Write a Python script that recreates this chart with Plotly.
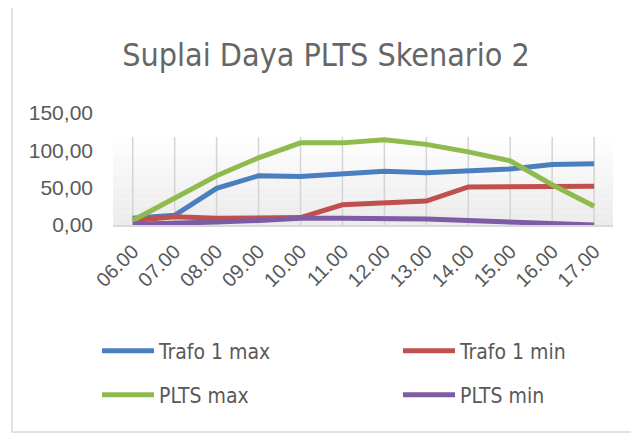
import plotly.graph_objects as go

hours = ["06.00", "07.00", "08.00", "09.00", "10.00", "11.00",
         "12.00", "13.00", "14.00", "15.00", "16.00", "17.00"]
trafo_max = [9, 13, 49, 66, 65, 68, 72, 70, 72, 75, 81, 82]
trafo_min = [6, 11, 9, 9, 10, 27, 30, 32, 51, 51, 51, 52]
plts_max = [6, 36, 66, 90, 110, 110, 114, 108, 98, 86, 54, 25]
plts_min = [1, 2, 4, 6, 9, 9, 9, 8, 6, 4, 2, 0]

series_names = ["Trafo 1 max", "Trafo 1 min", "PLTS max", "PLTS min"]
series_values = [trafo_max, trafo_min, plts_max, plts_min]
series_colors = ["#4a7ebf", "#c0504d", "#8fbb4e", "#7d5ca3"]

y_tickvals = [0, 50, 100, 150]
y_ticktext = ["0,00", "50,00", "100,00", "150,00"]

title_text = "Suplai Daya PLTS Skenario 2"
page_number = "291"

# page body has an 8px margin; work in window pixels and convert
OFF = 8
W, H = 639 - OFF, 434 - OFF
PL, PR, PT, PB = 113, 613, 113, 225   # plot area in window pixels
ML, MR, MT, MB = PL - OFF, W - (PR - OFF), PT - OFF, H - (PB - OFF)
PW = PR - PL
PH = PB - PT


def px_x(p):
    return (p - PL) / PW


def px_y(p):
    return (PB - p) / PH


narrow = "Liberation Sans Narrow, DejaVu Sans Condensed, Lato, sans-serif"
regular = "Liberation Sans, Arial, sans-serif"

fig = go.Figure()
legend_names = ["legend", "legend2", "legend3", "legend4"]
for name, vals, col, lg in zip(series_names, series_values, series_colors, legend_names):
    fig.add_trace(go.Scatter(
        x=hours, y=vals, name=name, mode="lines",
        line=dict(color=col, width=5), legend=lg, showlegend=True,
    ))

# gradient background + vertical gridlines
shapes = []
n = 14
top = 118
for i in range(n):
    y0 = top * i / n
    y1 = top * (i + 1) / n
    g = int(236 + (254 - 236) * i / (n - 1))
    shapes.append(dict(type="rect", xref="paper", yref="y", x0=0, x1=1, y0=y0, y1=y1,
                       fillcolor=f"rgb({g},{g},{g})", line=dict(width=0), layer="below"))
for i in range(len(hours)):
    shapes.append(dict(type="line", xref="x", yref="y", x0=i, x1=i, y0=0, y1=top,
                       line=dict(color="#d4d4d4", width=1.5), layer="below"))
# outer frame
shapes.append(dict(type="rect", xref="paper", yref="paper",
                   x0=px_x(12), x1=px_x(637), y0=px_y(432), y1=px_y(7),
                   line=dict(color="#d9d9d9", width=1.5), fillcolor="rgba(0,0,0,0)"))

legend_pos = [(px_x(97), px_y(351)), (px_x(398), px_y(351)),
              (px_x(97), px_y(395)), (px_x(398), px_y(395))]
legend_cfg = {}
for lg, (lx, ly) in zip(legend_names, legend_pos):
    legend_cfg[lg] = dict(
        x=lx, y=ly, xanchor="left", yanchor="middle",
        font=dict(family=narrow, size=21, color="#595959"),
        bgcolor="rgba(0,0,0,0)", borderwidth=0, itemwidth=52,
    )

fig.update_layout(
    width=W, height=H,
    margin=dict(l=ML, r=MR, t=MT, b=MB, autoexpand=False),
    showlegend=True,
    paper_bgcolor="white", plot_bgcolor="white",
    title=dict(text=title_text, x=(326 - OFF) / W, xanchor="center",
               y=1 - (55 - OFF) / H, yanchor="middle", yref="container",
               font=dict(family=narrow, size=32, color="#666666")),
    xaxis=dict(type="category", range=[-0.47, 11.45], showgrid=False,
               showline=True, linecolor="#d9d9d9", linewidth=1.5,
               tickangle=-45, ticks="", ticklabelstandoff=5,
               tickfont=dict(family=regular, size=20, color="#595959"),
               zeroline=False),
    yaxis=dict(range=[0, 150], tickvals=y_tickvals, ticktext=y_ticktext,
               showgrid=False, zeroline=False, showline=False, ticks="",
               ticklabelstandoff=19,
               tickfont=dict(family=regular, size=21, color="#595959")),
    shapes=shapes,
    annotations=[dict(text=page_number, xref="paper", yref="paper",
                      x=px_x(591), y=px_y(3), xanchor="center", yanchor="bottom",
                      showarrow=False, font=dict(family=regular, size=16, color="black"))],
    **legend_cfg,
)

fig.write_html("out.html")
